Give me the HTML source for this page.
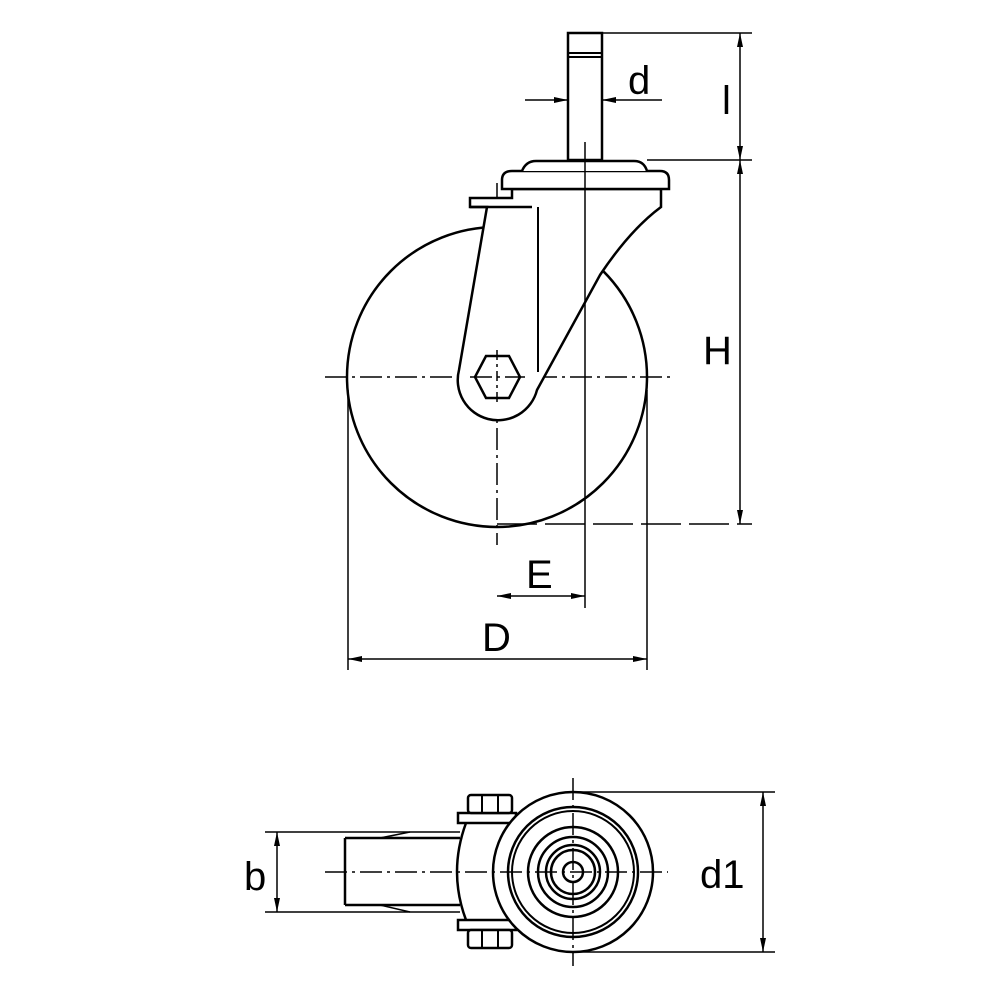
<!DOCTYPE html>
<html><head><style>html,body{margin:0;padding:0;background:#fff}svg{display:block}</style></head>
<body>
<svg width="1000" height="1000" viewBox="0 0 1000 1000" xmlns="http://www.w3.org/2000/svg" font-family="Liberation Sans, sans-serif">
<defs>
<marker id="a" viewBox="0 0 14 6" refX="14" refY="3" markerWidth="14" markerHeight="6" orient="auto-start-reverse" markerUnits="userSpaceOnUse"><path d="M0,0 L14,3 L0,6 Z" fill="#000"/></marker>
</defs>
<g fill="none" stroke="#000">
<!-- wheel -->
<circle cx="497" cy="377" r="150" stroke-width="2.5"/>
<!-- centerlines -->
<line x1="325" y1="377" x2="675" y2="377" stroke-width="1.5" stroke-dasharray="22,5,3,5"/>
<line x1="497" y1="183" x2="497" y2="545" stroke-width="1.5" stroke-dasharray="22,5,3,5"/>
<!-- fork -->
<path d="M487,207 L459,370 A40,40 0 0 0 537,390 L600,275 Q630,230 661,207 L661,189 L512,189 L512,198 L470,198 L470,207 Z" fill="#fff" stroke-width="2.5"/>
<line x1="470" y1="207" x2="532" y2="207" stroke-width="2.5"/>
<line x1="538" y1="207" x2="538" y2="372" stroke-width="2"/>
<polygon points="475,377 486,356 509,356 520,377 509,398 486,398" fill="#fff" stroke-width="2.5"/>
<line x1="497" y1="350" x2="497" y2="405" stroke-width="1.5" stroke-dasharray="10,4,3,4"/>
<line x1="470" y1="377" x2="525" y2="377" stroke-width="1.5" stroke-dasharray="22,5,3,5"/>
<!-- plates -->
<path d="M502,180 Q502,171 512,171 L660,171 Q669,171 669,180 L669,189 L502,189 Z" fill="#fff" stroke-width="2.5"/>
<path d="M522,171 Q526,161 536,161 L634,161 Q644,161 647,171" fill="#fff" stroke-width="2.5"/>
<!-- stem -->
<rect x="568" y="33" width="34" height="127" fill="#fff" stroke-width="2.5"/>
<line x1="568" y1="53" x2="602" y2="53" stroke-width="2"/>
<line x1="568" y1="57" x2="602" y2="57" stroke-width="2"/>
<line x1="585" y1="142" x2="585" y2="608" stroke-width="1.5" stroke-dasharray="60,0"/>
<!-- dims top -->
<line x1="602" y1="33" x2="752" y2="33" stroke-width="1.5"/>
<line x1="647" y1="160" x2="752" y2="160" stroke-width="1.5"/>
<line x1="497" y1="524" x2="752" y2="524" stroke-width="1.5" stroke-dasharray="40,8,0,0"/>
<line x1="740" y1="33" x2="740" y2="160" stroke-width="1.5" marker-start="url(#a)" marker-end="url(#a)"/>
<line x1="740" y1="160" x2="740" y2="524" stroke-width="1.5" marker-start="url(#a)" marker-end="url(#a)"/>
<line x1="525" y1="100" x2="568" y2="100" stroke-width="1.5" marker-end="url(#a)"/>
<line x1="662" y1="100" x2="602" y2="100" stroke-width="1.5" marker-end="url(#a)"/>
<line x1="348" y1="390" x2="348" y2="670" stroke-width="1.5"/>
<line x1="647" y1="390" x2="647" y2="670" stroke-width="1.5"/>
<line x1="348" y1="659" x2="647" y2="659" stroke-width="1.5" marker-start="url(#a)" marker-end="url(#a)"/>
<line x1="497" y1="596" x2="585" y2="596" stroke-width="1.5" marker-start="url(#a)" marker-end="url(#a)"/>
</g>
<g font-size="40" fill="#000">
<text x="628" y="94">d</text>
<text x="722" y="114">l</text>
<text x="703" y="364">H</text>
<text x="526" y="588">E</text>
<text x="482" y="651">D</text>
<text x="244" y="890">b</text>
<text x="700" y="888">d1</text>
</g>
<!-- bottom view -->
<g fill="none" stroke="#000">
<line x1="265" y1="832" x2="460" y2="832" stroke-width="1.5"/>
<line x1="265" y1="912" x2="460" y2="912" stroke-width="1.5"/>
<line x1="277" y1="832" x2="277" y2="912" stroke-width="1.5" marker-start="url(#a)" marker-end="url(#a)"/>
<path d="M345,838 L380,838 L460,838 M345,905 L460,905 M345,838 L345,905" stroke-width="2.5"/>
<path d="M380,838 L410,832 M380,905 L410,912" stroke-width="1.5"/>
<rect x="458" y="813" width="58" height="10" fill="#fff" stroke-width="2.5"/>
<rect x="468" y="795" width="44" height="18" rx="3" fill="#fff" stroke-width="2.5"/>
<line x1="482" y1="795" x2="482" y2="813" stroke-width="2"/><line x1="498" y1="795" x2="498" y2="813" stroke-width="2"/>
<rect x="458" y="920" width="58" height="10" fill="#fff" stroke-width="2.5"/>
<rect x="468" y="930" width="44" height="18" rx="3" fill="#fff" stroke-width="2.5"/>
<line x1="482" y1="930" x2="482" y2="948" stroke-width="2"/><line x1="498" y1="930" x2="498" y2="948" stroke-width="2"/>
<path d="M466,823 Q448,872 466,920" stroke-width="2.5"/>
<line x1="460" y1="823" x2="515" y2="823" stroke-width="2"/>
<circle cx="573" cy="872" r="80" fill="#fff" stroke-width="2.5"/>
<circle cx="573" cy="872" r="65" stroke-width="2.5"/>
<circle cx="573" cy="872" r="61" stroke-width="2"/>
<circle cx="573" cy="872" r="45" stroke-width="2.5"/>
<circle cx="573" cy="872" r="35" stroke-width="2.5"/>
<circle cx="573" cy="872" r="27" stroke-width="2.5"/>
<circle cx="573" cy="872" r="22" stroke-width="2.5"/>
<circle cx="573" cy="872" r="10" stroke-width="2.5"/>
<line x1="325" y1="872" x2="668" y2="872" stroke-width="1.5" stroke-dasharray="22,5,3,5"/>
<line x1="573" y1="778" x2="573" y2="966" stroke-width="1.5" stroke-dasharray="22,5,3,5"/>
<line x1="573" y1="792" x2="775" y2="792" stroke-width="1.5"/>
<line x1="573" y1="952" x2="775" y2="952" stroke-width="1.5"/>
<line x1="763" y1="792" x2="763" y2="952" stroke-width="1.5" marker-start="url(#a)" marker-end="url(#a)"/>
</g>
</svg>
</body></html>
